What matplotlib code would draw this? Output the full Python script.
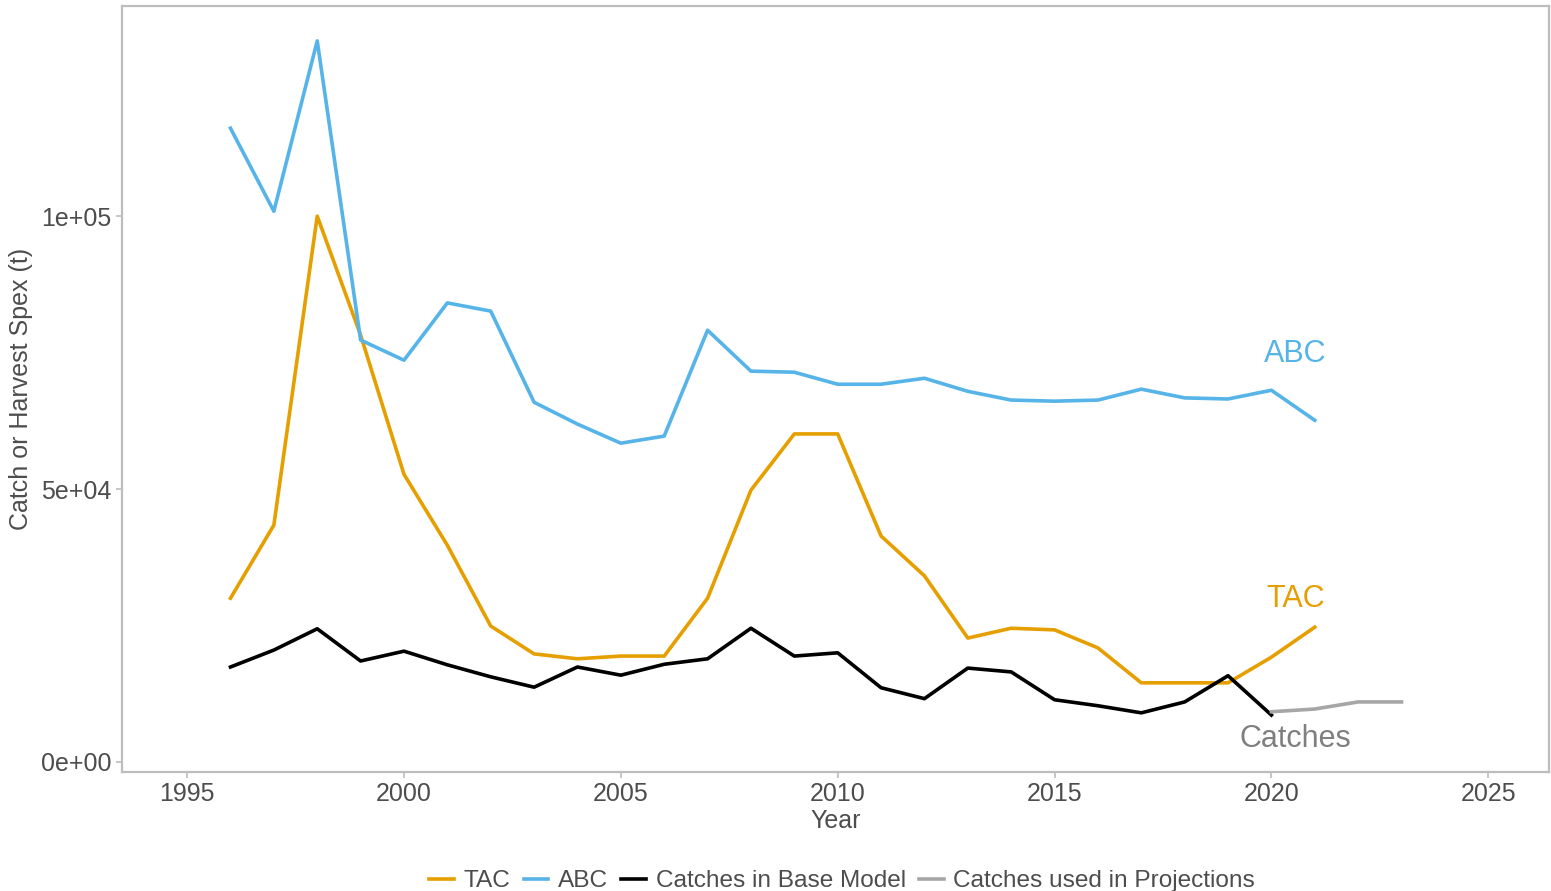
import matplotlib
matplotlib.use("Agg")
import matplotlib.pyplot as plt

plt.rcParams["font.family"] = ["Liberation Sans", "DejaVu Sans"]

years = list(range(1996, 2022))
abc = [116100, 100900, 132100, 77300, 73600, 84100, 82600, 65900, 61900, 58400,
       59700, 79100, 71600, 71400, 69200, 69200, 70300, 67900, 66300, 66100,
       66300, 68300, 66700, 66500, 68100, 62600]
tac = [30000, 43400, 100000, 78200, 52700, 39700, 24900, 19800, 18900, 19400,
       19400, 30000, 49800, 60100, 60100, 41400, 34100, 22700, 24500, 24200,
       20900, 14500, 14500, 14500, 19200, 24700]
base_years = list(range(1996, 2021))
base_catch = [17400, 20500, 24400, 18500, 20300, 17800, 15600, 13700, 17400, 15900,
              17900, 18900, 24500, 19400, 20000, 13600, 11600, 17200, 16500, 11400,
              10300, 9000, 11000, 15800, 8600]
proj_years = [2020, 2021, 2022, 2023]
proj_catch = [9200, 9700, 11000, 11000]

labels = ["ABC", "TAC", "Catches"]
label_x = [2020.55, 2020.55, 2020.55]
label_y = [74800, 29800, 4200]

c_tac = "#E69F00"
c_abc = "#56B4E9"
c_proj = "#A6A6A6"
txt = "#4D4D4D"
frame = "#BDBDBD"

fig = plt.figure(figsize=(15.51, 8.91), dpi=100)
ax = fig.add_axes([0.0787, 0.1336, 0.92, 0.8597])

lw = 2.6
ax.plot(years, tac, color=c_tac, lw=lw, label="TAC")
ax.plot(years, abc, color=c_abc, lw=lw, label="ABC")
ax.plot(base_years, base_catch, color="black", lw=lw, label="Catches in Base Model")
ax.plot(proj_years, proj_catch, color=c_proj, lw=lw, label="Catches used in Projections")

label_cols = [c_abc, c_tac, "#7F7F7F"]
for t, x, y, c in zip(labels, label_x, label_y, label_cols):
    ax.text(x, y, t, color=c, fontsize=22, ha="center", va="center")

ax.set_xlim(1993.5, 2026.4)
ax.set_ylim(-1830, 138500)
ax.set_xticks([1995, 2000, 2005, 2010, 2015, 2020, 2025])
ax.set_yticks([0, 50000, 100000])
ax.set_yticklabels(["0e+00", "5e+04", "1e+05"])

for s in ax.spines.values():
    s.set_color(frame)
    s.set_linewidth(1.6)
ax.tick_params(colors=frame, labelcolor=txt, labelsize=18, length=4, width=1.2)
ax.set_xlabel("Year", fontsize=18, color=txt, labelpad=2)
ax.set_ylabel("Catch or Harvest Spex (t)", fontsize=18, color=txt, labelpad=6)

fig.legend(loc="lower center", bbox_to_anchor=(0.543, -0.026), ncol=4, frameon=False,
           fontsize=17.6, handlelength=1.0, handletextpad=0.4, columnspacing=0.55,
           labelcolor=txt)

fig.savefig("out.png", dpi=100)
